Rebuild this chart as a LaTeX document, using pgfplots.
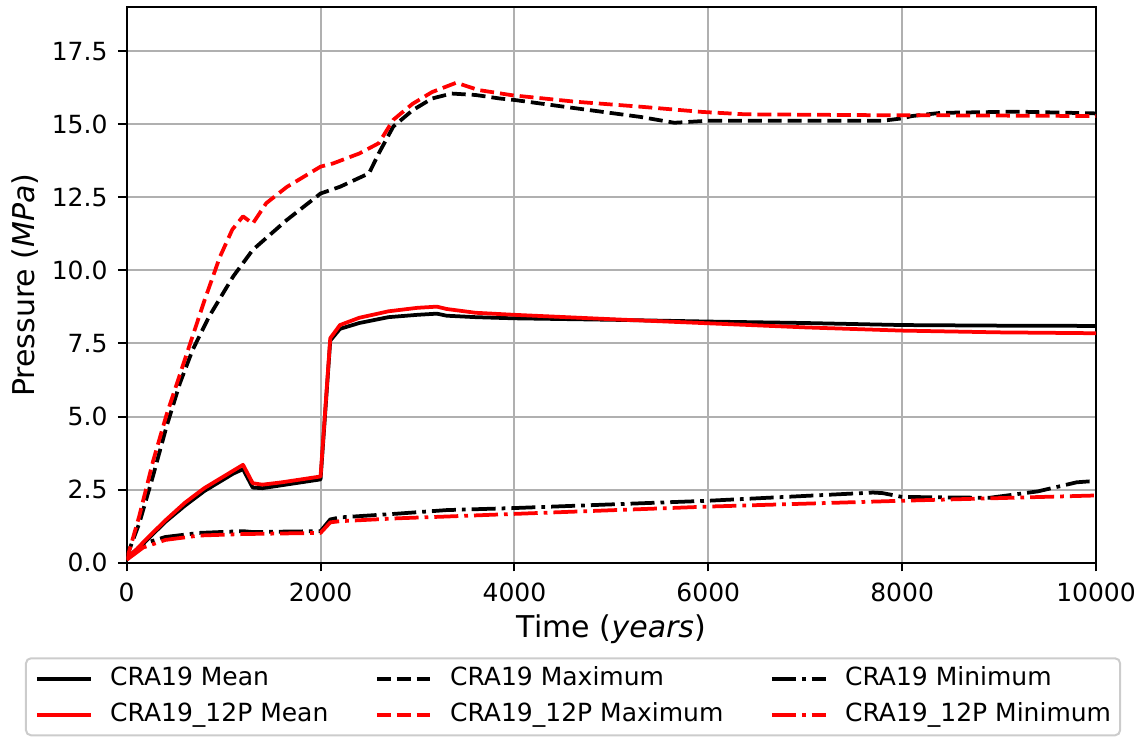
\documentclass[border=0pt]{standalone}
\usepackage{pgfplots}
\pgfplotsset{compat=1.18}
\usepackage{fontspec}
\setmainfont{DejaVu Sans}

\pgfplotstableread{
x y
0 0.15
100 0.4
200 0.75
400 1.4
600 1.95
800 2.45
1000 2.85
1100 3.05
1200 3.2
1300 2.57
1400 2.55
1600 2.65
1800 2.75
2000 2.85
2100 7.6
2200 8.0
2400 8.2
2700 8.4
3000 8.48
3200 8.52
3300 8.45
3600 8.4
4000 8.36
5000 8.31
6000 8.25
7000 8.2
8000 8.13
9000 8.11
10000 8.1
}\blackmean

\pgfplotstableread{
x y
0 0.15
100 0.45
200 0.8
400 1.45
600 2.05
800 2.55
1000 2.95
1100 3.15
1200 3.35
1300 2.72
1400 2.67
1600 2.75
1800 2.85
2000 2.95
2100 7.68
2200 8.13
2400 8.38
2700 8.6
3000 8.72
3200 8.76
3300 8.68
3600 8.55
4000 8.48
5000 8.33
6000 8.19
7000 8.05
8000 7.94
9000 7.88
10000 7.85
}\redmean

\pgfplotstableread{
x y
0 0.2
130 1.35
270 2.95
410 4.65
550 6.15
680 7.28
850 8.42
1000 9.25
1100 9.8
1300 10.7
1650 11.72
2000 12.63
2200 12.86
2500 13.32
2600 14.0
2750 14.92
2950 15.48
3150 15.88
3350 16.05
3600 16.0
3850 15.88
4000 15.83
4600 15.56
5300 15.25
5650 15.05
6000 15.12
7800 15.12
8000 15.2
8100 15.28
8400 15.39
9200 15.43
10000 15.37
}\blackmax

\pgfplotstableread{
x y
0 0.1
130 1.6
270 3.45
410 5.05
550 6.45
680 7.75
800 8.95
960 10.45
1090 11.4
1200 11.85
1300 11.6
1440 12.3
1650 12.85
2000 13.55
2130 13.66
2400 14.0
2600 14.35
2750 15.15
2950 15.7
3150 16.1
3400 16.42
3630 16.17
3980 15.99
4630 15.77
5300 15.6
5940 15.42
6380 15.34
7700 15.31
8100 15.31
10000 15.28
}\redmax

\pgfplotstableread{
x y
0 0.15
170 0.65
400 0.88
750 1.02
1200 1.08
1300 1.05
2000 1.08
2100 1.48
2200 1.55
2800 1.68
3300 1.8
4000 1.87
6000 2.12
7700 2.4
7800 2.38
8000 2.25
8900 2.22
9400 2.44
9800 2.75
10000 2.8
}\blackmin

\pgfplotstableread{
x y
0 0.1
170 0.52
400 0.78
750 0.93
1200 0.98
2000 1.02
2100 1.38
2200 1.42
2800 1.52
3300 1.58
4000 1.67
6000 1.92
8000 2.12
10000 2.3
}\redmin

\begin{document}
\begin{tikzpicture}[x=1pt,y=1pt]
\useasboundingbox (0,0) rectangle (457.2,295.2);
\begin{axis}[
  at={(50.68pt,70.12pt)}, anchor=south west,
  scale only axis, width=387.72pt, height=222.16pt,
  xmin=0, xmax=10000, ymin=0, ymax=19,
  xtick={0,2000,4000,6000,8000,10000},
  ytick={0,2.5,5,7.5,10,12.5,15,17.5},
  scaled x ticks=false, scaled y ticks=false,
  /pgf/number format/assume math mode=true,
  xticklabel style={/pgf/number format/1000 sep={}, inner ysep=4.5pt},
  yticklabel style={/pgf/number format/.cd, fixed, fixed zerofill, precision=1, /tikz/.cd, inner xsep=4pt},
  tick label style={font=\fontsize{10}{12}\selectfont},
  tick align=outside, major tick length=3.5pt,
  tick style={line width=0.8pt, black},
  xtick pos=bottom, ytick pos=left,
  axis line style={line width=0.8pt, black},
  grid=major, major grid style={line width=0.8pt, color=black!31},
  every axis x label/.style={at={(axis description cs:0.5,-0.1338)}, anchor=base},
  every axis y label/.style={at={(axis description cs:-0.0946,0.5)}, rotate=90, anchor=base},
  label style={font=\fontsize{12}{14}\selectfont},
  xlabel={Time (\textit{years})},
  ylabel={Pressure (\textit{MPa})},
  legend columns=3,
  legend cell align=left,
  legend image code/.code={\draw[#1] (0pt,0pt) -- (21.6pt,0pt);},
  legend style={
    at={(-0.1039,-0.1721)}, anchor=north west,
    draw=black!20, line width=0.8pt, rounded corners=2pt, fill=white,
    inner xsep=3.6pt, inner ysep=3.5pt, outer sep=0pt,
    row sep=5pt, column sep=0pt,
    /tikz/every odd column/.append style={column sep=7.0pt},
    /tikz/every even column/.append style={column sep=18.6pt},
    nodes={inner sep=0pt, text height=7.3pt, text depth=2.1pt, anchor=west},
    font=\fontsize{10}{12}\selectfont,
  },
  every axis plot/.append style={line width=1.5pt, line cap=butt, line join=round},
]
\addplot[black] table {\blackmean};
\addlegendentry{CRA19 Mean}
\addplot[black, dash pattern=on 5.55pt off 2.4pt] table {\blackmax};
\addlegendentry{CRA19 Maximum}
\addplot[black, dash pattern=on 9.6pt off 2.4pt on 1.5pt off 2.4pt] table {\blackmin};
\addlegendentry{CRA19 Minimum}
\addplot[red] table {\redmean};
\addlegendentry{CRA19\_12P Mean}
\addplot[red, dash pattern=on 5.55pt off 2.4pt] table {\redmax};
\addlegendentry{CRA19\_12P Maximum}
\addplot[red, dash pattern=on 9.6pt off 2.4pt on 1.5pt off 2.4pt] table {\redmin};
\addlegendentry{CRA19\_12P Minimum}
\end{axis}
\end{tikzpicture}
\end{document}
